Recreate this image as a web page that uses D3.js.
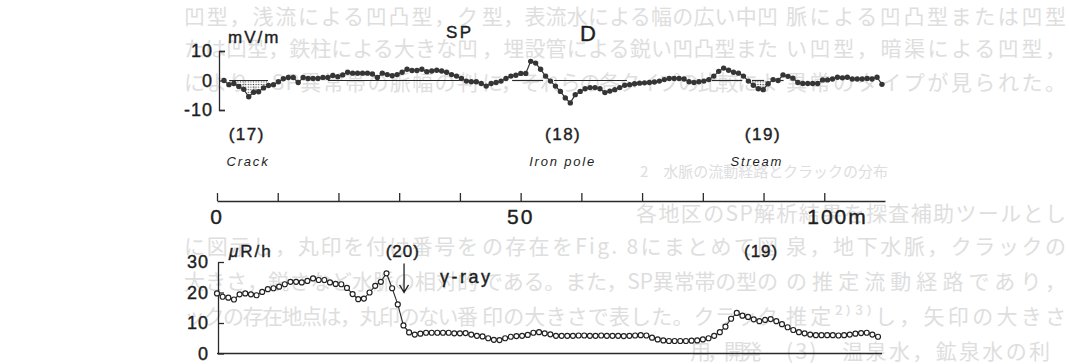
<!doctype html>
<html>
<head>
<meta charset="utf-8">
<title>SP and gamma-ray profile</title>
<script src="https://cdnjs.cloudflare.com/ajax/libs/d3/7.8.5/d3.min.js"></script>
<style>
  body { margin: 0; background: #fff; }
  svg text { font-family: "Liberation Sans", Arial, sans-serif; fill: #1e1e1e; }
  svg text.lab { stroke: #1e1e1e; stroke-width: 0.4; }
  svg text.bg { font-family: "Noto Sans CJK JP", sans-serif; fill: #dedede; stroke: none; }
  .axis path, .axis line { stroke: #2a2a2a; stroke-width: 1.3; }
</style>
</head>
<body>
<div id="chart"></div>
<script>
// SP readings (mV/m), evenly spaced stations from 1.15 m to 109.5 m
let spValues = [
  0, -1.4, -1.0, -2.0, -3.0, -5.5, -4.0, -3.8, -2.5, -1.7, -1.4, -0.4, 0.6, 1.0, 1.0, -0.7,
  1.0, 0.7, 0.7, 0.7, 1.0, 1.0, 1.7, 1.3, 1.9, 2.8, 2.5, 2.5, 2.5, 2.5, 2.2, 1.0, 2.5, 2.0,
  1.6, 2.0, 2.8, 3.8, 3.4, 3.4, 3.8, 3.0,
  3.2, 3.5, 3.2, 2.8, 2.0, 1.5, 0.7, -0.2, -0.4, -0.4, -1.0, -1.9, -1.0, -0.7, -0.2, 0.7,
  1.5, 1.8, 2.4, 2.4, 6.5, 5.9, 3.8, 1.5, -0.2, -1.9, -3.7, -5.9, -7.6, -4.8, -3.7, -2.8,
  -2.4, -2.4, -2.8, -4.1, -3.6, -3.1, -2.4, -1.6, -1.4, -1.1, -0.9, -0.8, -0.7, -0.5, -0.2,
  0.3, 0.7, 0.7, 0.7, 0.5, -0.4, -0.7, -0.4, -0.2, 0.3, 1.5, 3.1, 4.2, 3.5, 2.8, 2.5, 1.5,
  -0.2, -1.6, -2.8, -3.1, -1.1, 0.3, 0.0, 1.9, 1.4, 0.8, -0.7, -1.0, -1.0, -1.0, -1.0, 0.2,
  0.2, 0.5, 1.1, 0.9, 1.1, 0.5, 0.5, 0.5, 0.7, 0.5, 1.1, -1.3
];
let spSpan = [1.15, 109.5];

// gamma-ray readings (μR/h), evenly spaced from 0 m to 108.85 m
let gammaValues = [
  19.7, 18.6, 18.3, 17.7, 19.4, 19.7, 19.4, 19.1, 20.2, 21.1, 21.4, 21.9, 22.7, 23.5, 23.5,
  23.3, 23.8, 24.6, 24.1, 24.1, 23.3, 22.8, 22.7, 21.5, 19.5, 17.8, 18.0, 20.0, 22.2, 23.5,
  26.3, 21.4, 16.1, 9.2, 6.9, 6.2, 6.5, 6.8, 6.8, 6.8, 6.8, 6.8, 6.6, 6.6, 6.7, 6.2, 5.8,
  5.6, 5.0, 4.5, 4.4, 5.0, 5.5, 5.7, 5.8, 6.1, 6.8, 7.0, 6.6, 6.3, 5.8,
  5.8, 5.8, 5.8, 5.9, 5.9, 5.8, 5.8, 5.9, 5.8, 5.8, 5.8, 5.7, 5.8, 5.9, 6.0, 5.9,
  5.2, 4.6, 4.3, 4.1, 4.1, 4.1, 4.1, 4.2, 4.3, 4.6, 5.0, 5.8, 7.0, 8.8, 11.4, 13.3, 12.4,
  12.0, 11.2, 10.6, 11.0, 11.3, 10.6, 9.6, 8.6, 7.7, 7.0, 6.6, 6.2, 6.0, 6.0, 6.0, 6.0,
  5.9, 6.0, 6.2, 6.5, 6.7, 6.8, 6.2, 5.5
];
let gammaSpan = [0, 108.85];

let spTicks = [-10, 0, 10];
let gammaTicks = [0, 10, 20, 30];
let distTicks = [0, 10, 20, 30, 40, 50, 60, 70, 80, 90, 100];
let distLabels = ["0", "50", "100m"];
let distLabelAt = [0, 50, 100];

// zero-line pieces under the SP anomalies (m), and the stippled ones
let zeroPieces = [[2.0, 8.4], [18.3, 40.0], [48.6, 53.7], [55.5, 67.5], [81.5, 86.5], [88.1, 90.1], [92.3, 93.3]];
let stipplePieces = [[2.0, 8.6], [87.6, 90.4]];

let siteIds = ["(17)", "(18)", "(19)"];
let siteIdAt = [4.9, 57.0, 89.9];
let siteNames = ["Crack", "Iron pole", "Stream"];
let siteNameAt = [5.1, 56.9, 88.9];

// faint text of the printed page showing through: [x0, x1, baseline, size, text]
let pageText = [
  [184, 478, 24, 21, "凹型，浅流による凹凸型，ク"],
  [482, 778, 24, 21, "型，表流水による幅の広い中凹"],
  [786, 1066, 24, 21, "脈による凹凸型または凹型"],
  [184, 478, 56, 21, "たは凹型，鉄柱による大きな凹"],
  [482, 778, 56, 21, "，埋設管による鋭い凹凸型また"],
  [786, 1066, 56, 21, "い凹型，暗渠による凹型，"],
  [184, 478, 90, 21, "により，SP異常帯の脈幅の判"],
  [482, 778, 90, 21, "に，それらの各タイプの比較によ"],
  [786, 1066, 90, 21, "異常のタイプが見られた。"],
  [640, 888, 177, 15, "2　水脈の流動経路とクラックの分布"],
  [636, 1066, 221, 21, "各地区のSP解析結果を探査補助ツールとし"],
  [184, 478, 254, 21, "に図示し，丸印を付け番号を"],
  [482, 778, 254, 21, "の存在をFig. 8にまとめて図"],
  [786, 1066, 254, 21, "泉，地下水脈，クラックの"],
  [184, 478, 289, 21, "大きさ，鋭さなど水脈の相対的"],
  [482, 778, 289, 21, "である。また，SP異常帯の型の"],
  [786, 1066, 289, 21, "の推定流動経路であり，"],
  [184, 478, 324, 21, "ックの存在地点は，丸印のない番"],
  [482, 778, 324, 21, "印の大きさで表した。クラック"],
  [786, 1066, 324, 21, "推定²⁾³⁾し，矢印の大きさ"],
  [690, 762, 359, 21, "用，開発"],
  [786, 1050, 359, 21, "(3)　温泉水，鉱泉水の利"]
];

let svg = d3.select("#chart").append("svg")
  .attr("width", 1069)
  .attr("height", 364);

svg.selectAll(".bg")
  .data(pageText)
  .join("text")
  .attr("class", "bg")
  .attr("x", d => d[0])
  .attr("y", d => d[2])
  .attr("font-size", d => d[3])
  .attr("textLength", d => d[1] - d[0])
  .attr("lengthAdjust", "spacing")
  .text(d => d[4]);

let defs = svg.append("defs");
let pat = defs.append("pattern")
  .attr("id", "dots")
  .attr("width", 2.6).attr("height", 2.6)
  .attr("patternUnits", "userSpaceOnUse");
pat.append("circle").attr("cx", 1.3).attr("cy", 1.3).attr("r", 0.7).attr("fill", "#444");

// distance scale shared by both profiles
let xm = d3.scaleLinear().domain([0, 110]).range([217, 885]);

// ---------- SP profile ----------
let ySp = d3.scaleLinear().domain([-10, 10]).range([110, 51]);
let xSp = d3.scaleLinear().domain([0, spValues.length - 1]).range([xm(spSpan[0]), xm(spSpan[1])]);
let spMeters = d3.scaleLinear().domain([0, spValues.length - 1]).range(spSpan);

svg.append("g")
  .attr("class", "axis")
  .attr("transform", "translate(219,0)")
  .call(d3.axisLeft(ySp).tickValues(spTicks).tickSizeInner(-6).tickSizeOuter(-6).tickPadding(6).tickFormat(d => String(d)))
  .call(g => g.selectAll("text").attr("class", "lab").attr("font-size", 18).attr("letter-spacing", 1).attr("fill", "#1e1e1e").attr("font-family", "Liberation Sans"));

// stippled fill between zero line and the curve
stipplePieces.forEach(p => {
  let pts = spValues.map((v, i) => [i, v]).filter(d => spMeters(d[0]) >= p[0] - 0.5 && spMeters(d[0]) <= p[1] + 0.5);
  svg.append("path")
    .datum(pts)
    .attr("fill", "url(#dots)")
    .attr("d", d3.area().x(d => xSp(d[0])).y0(ySp(0)).y1(d => ySp(Math.min(d[1], 0))));
});

svg.selectAll(".zero")
  .data(zeroPieces)
  .join("line")
  .attr("x1", d => xm(d[0])).attr("x2", d => xm(d[1]))
  .attr("y1", ySp(0)).attr("y2", ySp(0))
  .attr("stroke", "#2a2a2a").attr("stroke-width", 1.2);

svg.append("path")
  .datum(spValues)
  .attr("fill", "none")
  .attr("stroke", "#333")
  .attr("stroke-width", 1.2)
  .attr("d", d3.line().x((d, i) => xSp(i)).y(d => ySp(d)));

svg.selectAll(".spdot")
  .data(spValues)
  .join("circle")
  .attr("cx", (d, i) => xSp(i))
  .attr("cy", d => ySp(d))
  .attr("r", 2.7)
  .attr("fill", "#353535");

svg.append("text").attr("class", "lab").attr("x", 228).attr("y", 43).attr("font-size", 17).attr("letter-spacing", 2).text("mV/m");
svg.append("text").attr("class", "lab").attr("x", 446).attr("y", 38).attr("font-size", 17).attr("letter-spacing", 2.5).text("SP");
svg.append("text").attr("class", "lab").attr("x", 580).attr("y", 41).attr("font-size", 22).text("D");

svg.selectAll(".siteid")
  .data(siteIds)
  .join("text")
  .attr("class", "lab")
  .attr("x", (d, i) => xm(siteIdAt[i]))
  .attr("y", 140)
  .attr("text-anchor", "middle")
  .attr("font-size", 17)
  .attr("letter-spacing", 1.5)
  .text(d => d);

svg.selectAll(".sitename")
  .data(siteNames)
  .join("text")
  .attr("x", (d, i) => xm(siteNameAt[i]))
  .attr("y", 166)
  .attr("text-anchor", "middle")
  .attr("font-size", 13)
  .attr("font-style", "italic")
  .attr("letter-spacing", 1.8)
  .text(d => d);

// ---------- distance scale bar ----------
svg.append("g")
  .attr("class", "axis")
  .attr("transform", "translate(0,201)")
  .call(d3.axisTop(xm).tickValues(distTicks).tickSize(8).tickSizeOuter(0).tickFormat(""));

svg.selectAll(".distlab")
  .data(distLabels)
  .join("text")
  .attr("class", "lab")
  .attr("x", (d, i) => i < 2 ? xm(distLabelAt[i]) : xm(distLabelAt[i]) - 17)
  .attr("y", 224)
  .attr("text-anchor", (d, i) => i < 2 ? "middle" : "start")
  .attr("font-size", 21)
  .attr("letter-spacing", 2)
  .text(d => d);

// ---------- gamma-ray profile ----------
let yG = d3.scaleLinear().domain([0, 30]).range([353.5, 262]);
let xG = d3.scaleLinear().domain([0, gammaValues.length - 1]).range([xm(gammaSpan[0]), xm(gammaSpan[1])]);

svg.append("g")
  .attr("class", "axis")
  .attr("transform", "translate(218,0)")
  .call(d3.axisLeft(yG).tickValues(gammaTicks).tickSizeInner(-6).tickSizeOuter(0).tickPadding(9))
  .call(g => g.selectAll("text").attr("class", "lab").attr("font-size", 18).attr("letter-spacing", 1).attr("fill", "#1e1e1e").attr("font-family", "Liberation Sans"));

svg.append("line")
  .attr("x1", xm(0)).attr("x2", xm(109.5))
  .attr("y1", yG(0)).attr("y2", yG(0))
  .attr("stroke", "#2a2a2a").attr("stroke-width", 1.4);

svg.append("path")
  .datum(gammaValues)
  .attr("fill", "none")
  .attr("stroke", "#2a2a2a")
  .attr("stroke-width", 1.1)
  .attr("d", d3.line().x((d, i) => xG(i)).y(d => yG(d)));

svg.selectAll(".gdot")
  .data(gammaValues)
  .join("circle")
  .attr("cx", (d, i) => xG(i))
  .attr("cy", d => yG(d))
  .attr("r", 2.5)
  .attr("fill", "#fff")
  .attr("stroke", "#222")
  .attr("stroke-width", 1.2);

let ur = svg.append("text").attr("class", "lab").attr("x", 229).attr("y", 257).attr("font-size", 17).attr("letter-spacing", 2);
ur.append("tspan").attr("font-style", "italic").text("μ");
ur.append("tspan").text("R/h");
svg.append("text").attr("class", "lab").attr("x", xm(30.6)).attr("y", 257).attr("text-anchor", "middle").attr("font-size", 17).attr("letter-spacing", 1).text("(20)");
svg.append("text").attr("class", "lab").attr("x", 440).attr("y", 283).attr("font-size", 18).attr("letter-spacing", 2.5).text("γ-ray");
svg.append("text").attr("class", "lab").attr("x", xm(89.6)).attr("y", 257).attr("text-anchor", "middle").attr("font-size", 17).attr("letter-spacing", 1).text("(19)");

// arrow to site (20)
let ax = xm(30.8);
svg.append("path")
  .attr("d", `M${ax},${yG(29.5)}V${yG(20)}M${ax - 4.5},${yG(22.5)}L${ax},${yG(20)}L${ax + 4.5},${yG(22.5)}`)
  .attr("fill", "none")
  .attr("stroke", "#222")
  .attr("stroke-width", 1.3);
</script>
</body>
</html>
